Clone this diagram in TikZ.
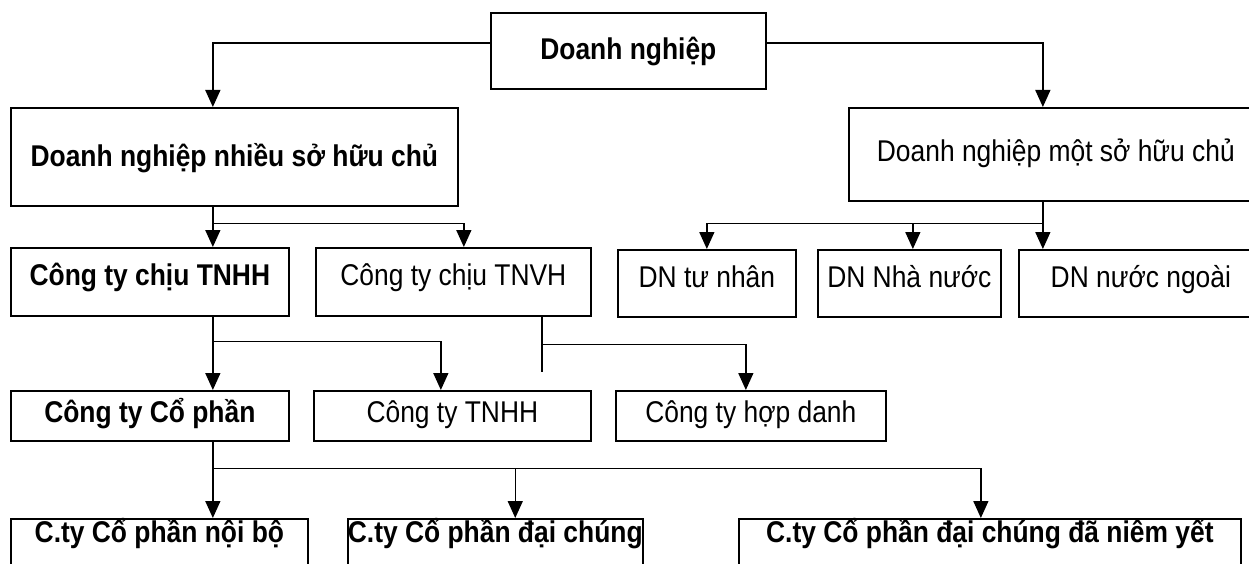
\documentclass[tikz,border=0pt]{standalone}
\usepackage{fontspec}
\setmainfont[FakeStretch=0.88]{Liberation Sans}
\usetikzlibrary{arrows.meta}
\begin{document}
\begin{tikzpicture}[x=1pt,y=-1pt,
  box/.style={draw, line width=1.7pt, rectangle, inner xsep=0pt, inner ysep=0pt,
              anchor=north west, align=center, font=\fontsize{30}{33}\selectfont},
  boldbox/.style={box, font=\fontsize{30}{33}\selectfont\bfseries},
  link/.style={line width=1.5pt},
  arr/.style={link, -{Triangle[length=17pt,width=15pt]}}]
\useasboundingbox (0,0) rectangle (1249,564);
\clip (0,0) rectangle (1249,564);
\fill[white] (0,0) rectangle (1249,564);

% level 0
\node[boldbox, minimum width=275pt, text height=47pt, text depth=29pt] (root) at (490,12) {Doanh nghiệp};

% level 1
\node[boldbox, minimum width=447pt, text height=59pt, text depth=39pt] (many) at (10,107) {Doanh nghiệp nhiều sở hữu chủ};
\node[box, minimum width=414pt, text height=54pt, text depth=39pt] (one) at (848,107) {Doanh nghiệp một sở hữu chủ};

% level 2
\node[boldbox, minimum width=278pt, text height=38pt, text depth=30pt] (tnhh) at (10,247) {Công ty chịu TNHH};
\node[box, minimum width=275pt, text height=38pt, text depth=30pt] (tnvh) at (315,247) {Công ty chịu TNVH};
\node[box, minimum width=178pt, text height=38pt, text depth=29pt] (tn) at (617,249) {DN tư nhân};
\node[box, minimum width=183pt, text height=38pt, text depth=29pt] (nn) at (817,249) {DN Nhà nước};
\node[box, minimum width=244pt, text height=38pt, text depth=29pt] (ng) at (1018,249) {DN nước ngoài};

% level 3
\node[boldbox, minimum width=278pt, text height=32pt, text depth=18pt] (cp) at (10,390) {Công ty Cổ phần};
\node[box, minimum width=277pt, text height=32pt, text depth=18pt] (tnhh2) at (313,390) {Công ty TNHH};
\node[box, minimum width=270pt, text height=32pt, text depth=18pt] (hd) at (615,390) {Công ty hợp danh};

% level 4
\node[boldbox, minimum width=297pt, text height=24pt, text depth=58pt] (c1) at (10,518) {C.ty Cổ phần nội bộ};
\node[boldbox, minimum width=294pt, text height=24pt, text depth=58pt] (c2) at (347,518) {C.ty Cổ phần đại chúng};
\node[boldbox, minimum width=502pt, text height=24pt, text depth=58pt] (c3) at (738,518) {C.ty Cổ phần đại chúng đã niêm yết};

% connectors
\draw[arr] ([yshift=8pt]root.west) -| ([xshift=-21.5pt]many.north);
\draw[arr] ([yshift=8pt]root.east) -| ([xshift=-13pt]one.north);

\draw[arr] ([xshift=-21.5pt]many.south) -- ([xshift=63pt]tnhh.north);
\draw[arr] ([xshift=-21.5pt]many.south) ++(0,17) -| ([xshift=10.5pt]tnvh.north);

\draw[arr] ([xshift=-13pt]one.south) -- ([xshift=-98pt]ng.north);
\draw[arr] ([xshift=-13pt]one.south) ++(0,22) -| (tn.north);
\draw[arr] ([xshift=-13pt]one.south) ++(0,22) -| ([xshift=3.5pt]nn.north);

\draw[arr] ([xshift=63pt]tnhh.south) -- ([xshift=63pt]cp.north);
\draw[arr] ([xshift=63pt]tnhh.south) ++(0,25) -| ([xshift=-11.5pt]tnhh2.north);

\draw[link] ([xshift=88.5pt]tnvh.south) -- ++(0,55);
\draw[arr] ([xshift=88.5pt]tnvh.south) ++(0,28) -| ([xshift=-5pt]hd.north);

\draw[arr] ([xshift=63pt]cp.south) -- ([xshift=53.5pt]c1.north);
\draw[arr] ([xshift=63pt]cp.south) ++(0,27) -| ([xshift=20pt]c2.north);
\draw[arr] ([xshift=63pt]cp.south) ++(0,27) -| ([xshift=-9pt]c3.north);
\end{tikzpicture}
\end{document}
